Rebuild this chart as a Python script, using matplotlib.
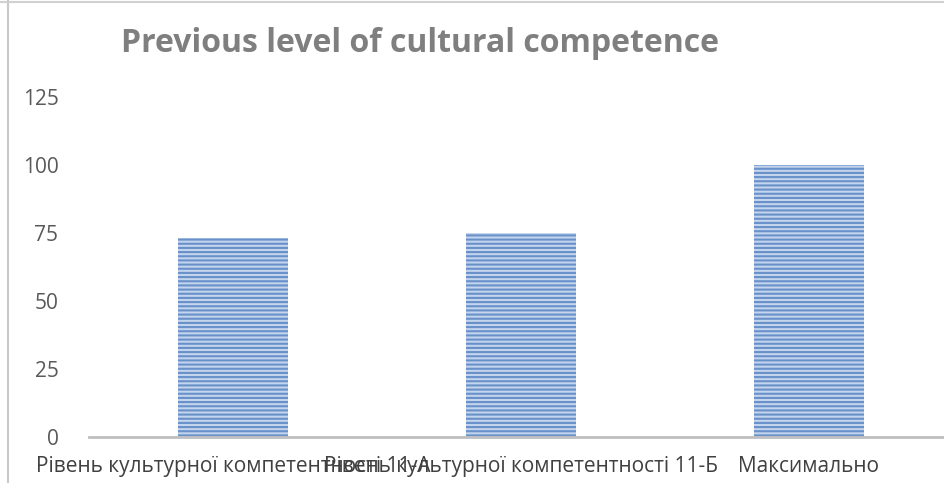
import matplotlib
matplotlib.use("Agg")
import matplotlib.pyplot as plt
from matplotlib.lines import Line2D

plt.rcParams['font.family'] = ['Open Sans', 'DejaVu Sans']
plt.rcParams['hatch.linewidth'] = 1.5

categories = ['Рівень культурної компетентності 11-А',
              'Рівень культурної компетентності 11-Б',
              'Максимально']
values = [73, 75, 100]
yticks = [0, 25, 50, 75, 100, 125]

fig = plt.figure(figsize=(9.45, 4.83), dpi=100)
ax = fig.add_axes([89/945, 46/483, 864/945, 340/483])

x = range(len(categories))
ax.bar(x, values, 0.38, color='#c3d4ec', edgecolor='#6891ca', linewidth=0,
       hatch='----')

ax.set_xlim(-0.5, 2.5)
ax.set_ylim(0, 125)
ax.set_yticks(yticks)
ax.set_xticks(list(x))
ax.set_xticklabels(categories, fontsize=15, color='#404040')
ax.tick_params(axis='y', length=0, pad=22, labelsize=15, labelcolor='#595959')
ax.tick_params(axis='x', length=0, pad=14)
for s in ['top', 'right', 'left']:
    ax.spines[s].set_visible(False)
ax.spines['bottom'].set_color('#bfbfbf')
ax.spines['bottom'].set_linewidth(2)

fig.text(420/945, 1 - 43/483, 'Previous level of cultural competence',
         ha='center', va='center', fontsize=23, fontweight='bold', color='#7f7f7f')

# screenshot frame lines
fig.add_artist(Line2D([8/945, 8/945], [0, 1], color='#c8c8c8', lw=1.5))
fig.add_artist(Line2D([0, 1], [1 - 2/483, 1 - 2/483], color='#d0d0d0', lw=1.5))

fig.savefig('out.png', dpi=100)
